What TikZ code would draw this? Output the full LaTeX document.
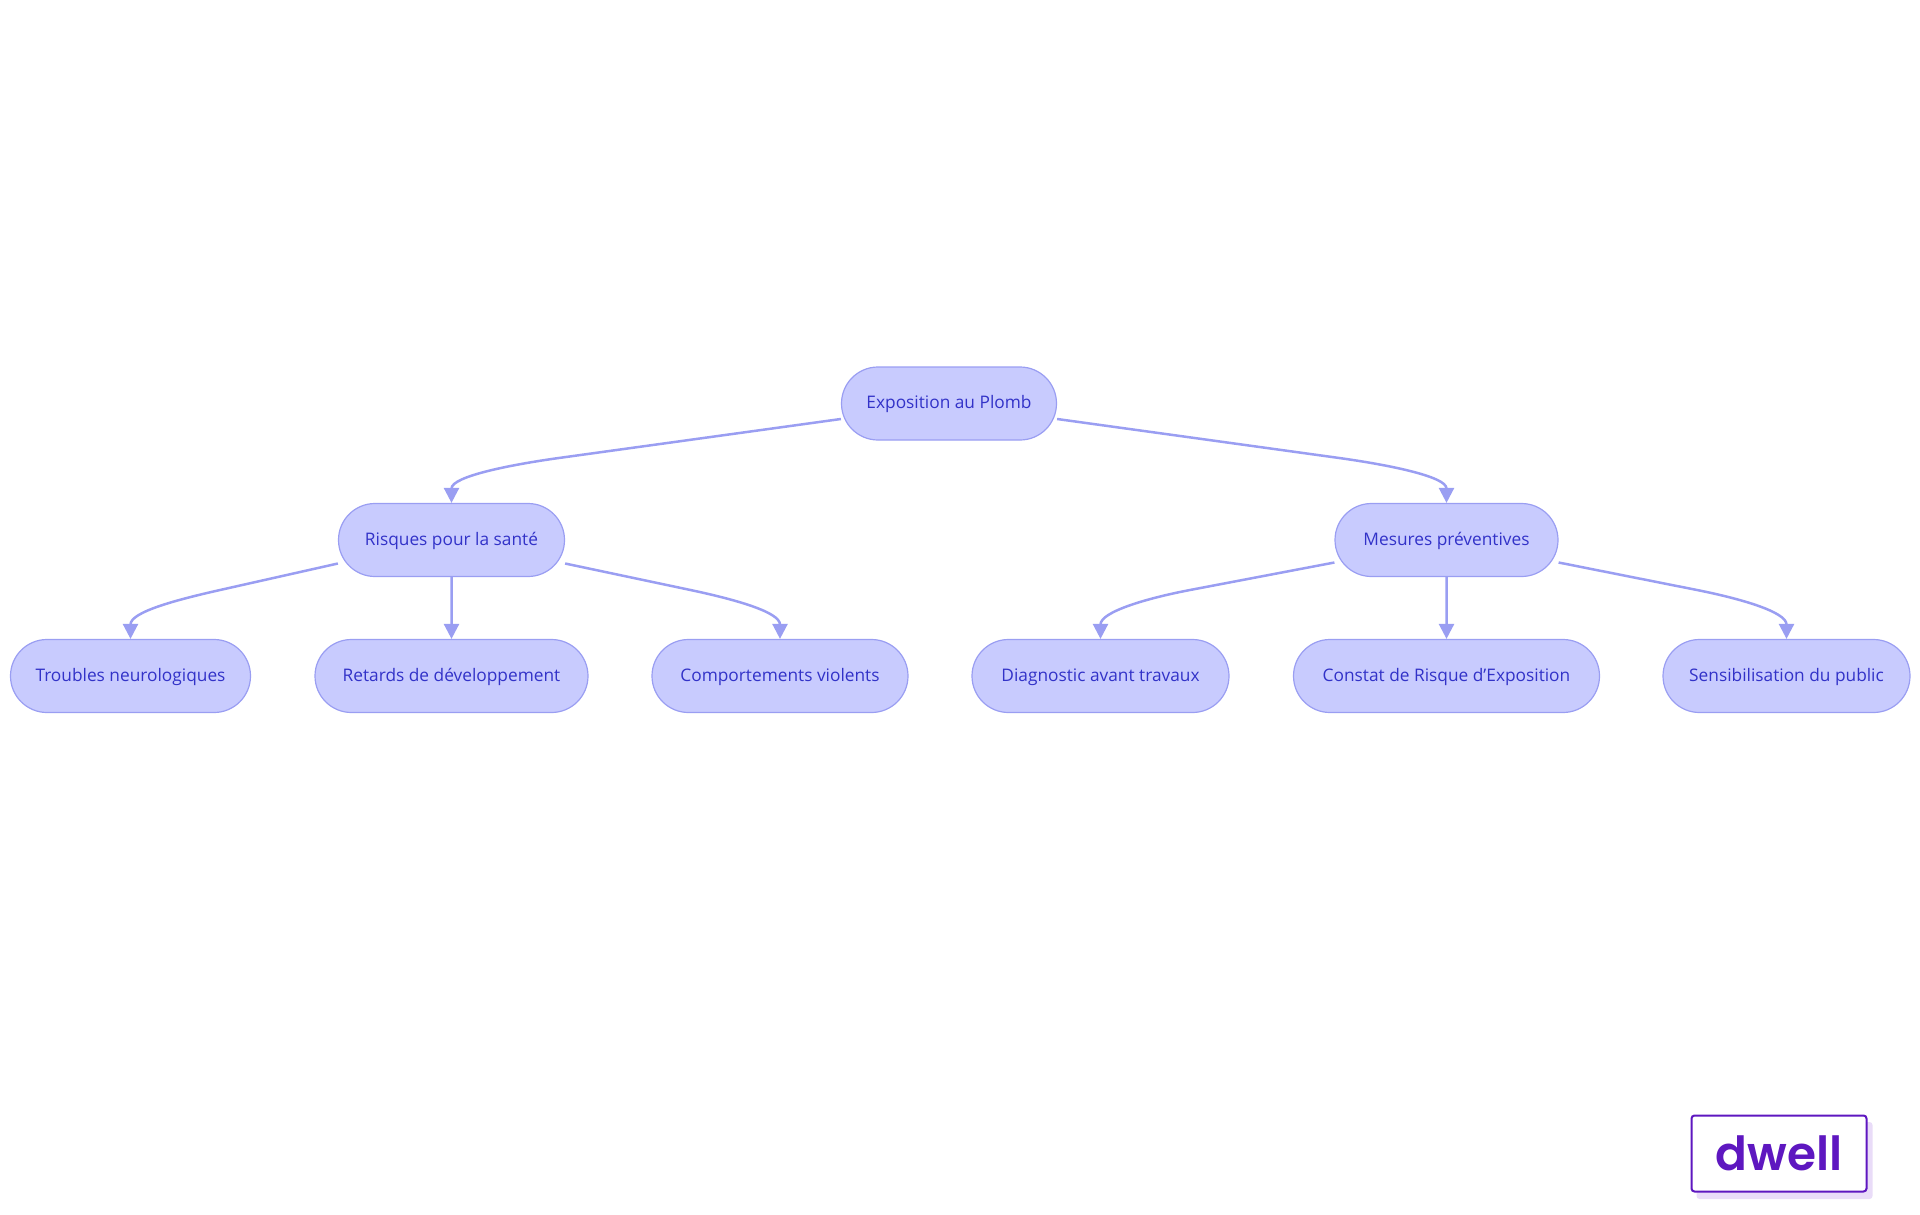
\documentclass[tikz,border=0pt]{standalone}
\usepackage{fontspec}
\setmainfont{Open Sans}
\newfontfamily\logofont{Poppins}[UprightFont=* SemiBold]
\usetikzlibrary{arrows.meta,shapes.misc,calc}
\definecolor{pillfill}{HTML}{C8CBFE}
\definecolor{pillline}{HTML}{9A9EF2}
\definecolor{pilltext}{HTML}{3232C8}
\definecolor{logoink}{HTML}{5E17C0}
\definecolor{logoshade}{HTML}{E9DCF8}

\begin{document}
\begin{tikzpicture}[x=1pt,y=-1pt,
                pill/.style = {rounded rectangle, draw=pillline, fill=pillfill, text=pilltext,
                    line width=1.2pt, minimum height=73pt, inner sep=0pt, text height=13pt, text depth=2.4pt,
                    font=\fontsize{17.3}{22}\selectfont},
                link/.style = {draw=pillline, line width=2.5pt, -{Triangle[width=15pt,length=15pt]}}
                ]
                \useasboundingbox (0,0) rectangle (1920,1215);
                \node[pill, minimum width=215pt] (plomb) at (949,403.5) {Exposition au Plomb};
                \node[pill, minimum width=226pt] (risques) at (451.5,540) {Risques pour la santé};
                \node[pill, minimum width=223pt] (mesures) at (1446.5,540) {Mesures préventives};
                \node[pill, minimum width=240pt] (troubles) at (130.5,676) {Troubles neurologiques};
                \node[pill, minimum width=273pt] (retards) at (451.5,676) {Retards de développement};
                \node[pill, minimum width=256pt] (comport) at (780,676) {Comportements violents};
                \node[pill, minimum width=257pt] (diag) at (1100.5,676) {Diagnostic avant travaux};
                \node[pill, minimum width=306pt] (constat) at (1446.5,676) {Constat de Risque d'Exposition};
                \node[pill, minimum width=247pt] (sensib) at (1786.5,676) {Sensibilisation du public};
                \foreach \from/\to/\side/\dy/\run/\rise in {plomb/risques/west/15.5/108/45,plomb/mesures/east/15.5/-108/45,
                    risques/troubles/west/23.5/90/49,risques/comport/east/23.5/-90/49,
                    mesures/diag/west/22.5/90/49,mesures/sensib/east/22.5/-90/49}
                    \draw[link] ([yshift=-\dy pt]\from.\side) coordinate (start)
                        -- ([shift={(\run,-\rise)}]\to.north) coordinate (bend)
                        .. controls ($(bend)!-45pt!(start)$) and ([yshift=27]\to.north) .. (\to.north);
                \draw[link] (risques) -- (retards);
                \draw[link] (mesures) -- (constat);
                \node[fill=logoshade, rounded corners=3pt, minimum width=176pt, minimum height=77pt, inner sep=0pt] (logoback) at (1784.5,1160.5) {};
                \node[draw=logoink, fill=white, text=logoink, line width=2pt, rounded corners=3pt, minimum width=175pt, minimum height=76pt, inner sep=0pt,
                    font=\logofont\fontsize{47}{50}\selectfont] (logo) at (1779,1153.5) {dwell};
            \end{tikzpicture}
\end{document}
